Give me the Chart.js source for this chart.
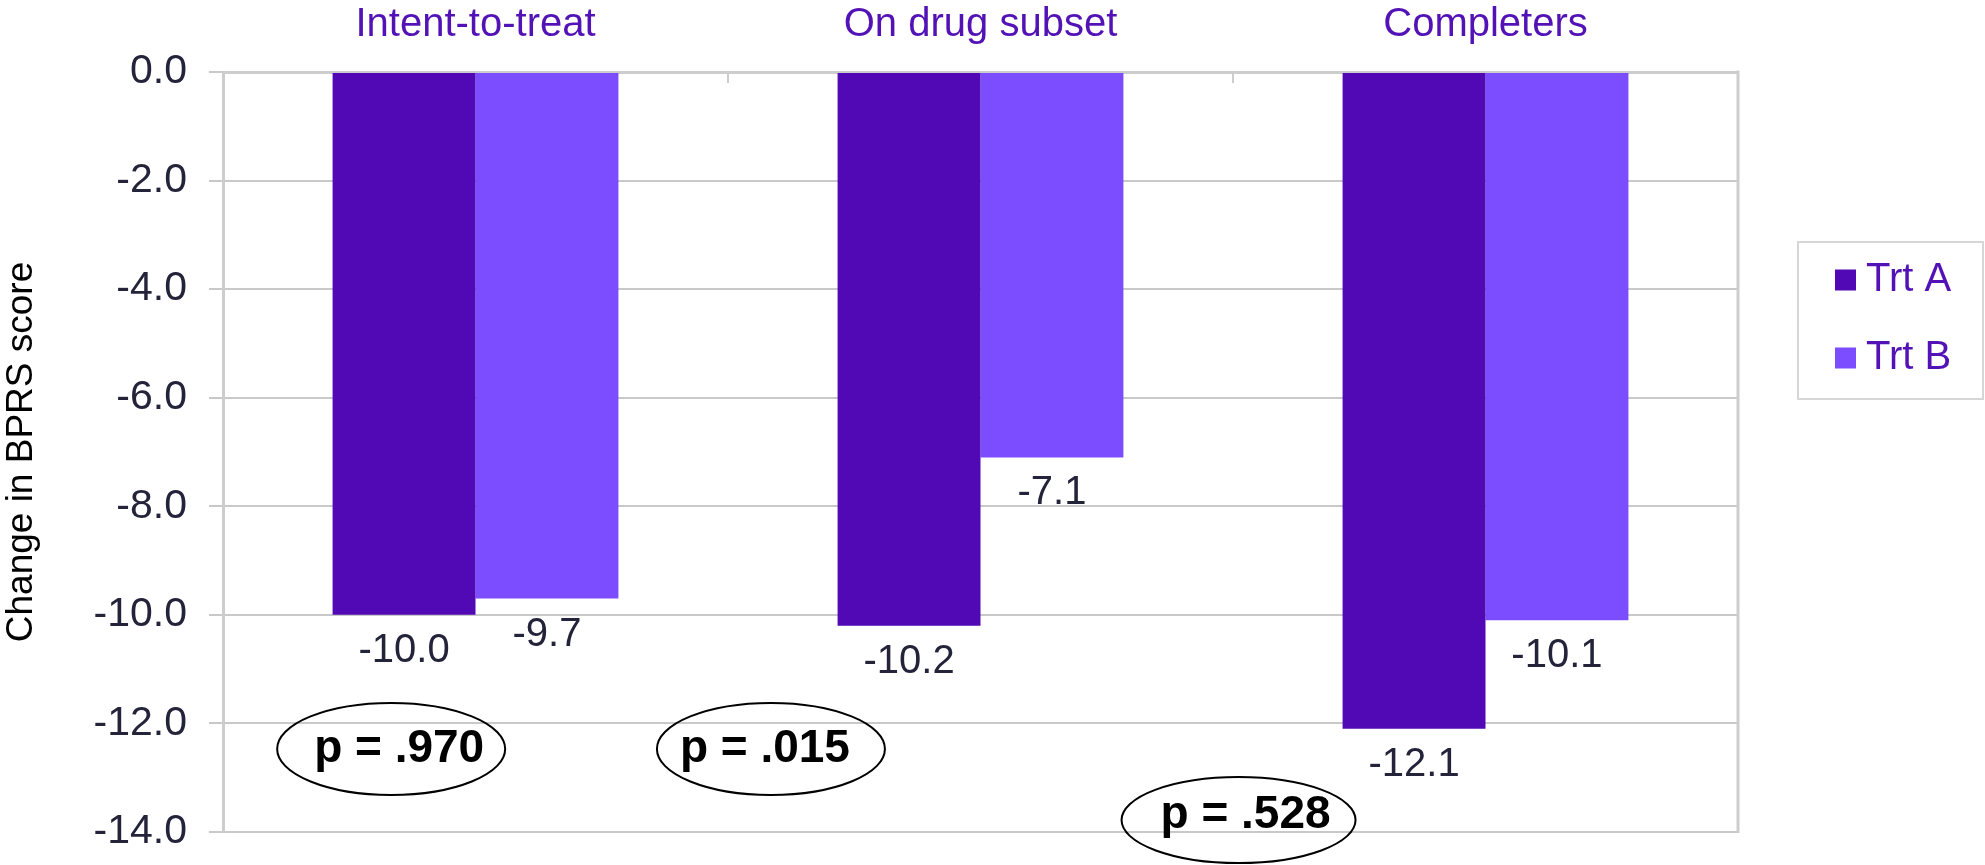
<!DOCTYPE html>
<html>
<head>
<meta charset="utf-8">
<title>Change in BPRS score</title>
<script src="https://cdn.jsdelivr.net/npm/chart.js@4.4.1/dist/chart.umd.min.js"></script>
<style>
  html, body { margin: 0; padding: 0; background: #ffffff; }
  canvas { display: block; }
</style>
</head>
<body>
<canvas id="bprs" width="1985" height="865"></canvas>
<script>
// ---- data ----
const categories = ['Intent-to-treat', 'On drug subset', 'Completers'];
const seriesNames = ['Trt A', 'Trt B'];
const trtA = [-10.0, -10.2, -12.1];
const trtB = [-9.7, -7.1, -10.1];
const yTickValues = [0, -2, -4, -6, -8, -10, -12, -14];
const pValueNotes = ['p = .970', 'p = .015', 'p = .528'];

// ---- look ----
const FONT = "'Liberation Sans', Arial, Helvetica, sans-serif";
const colorA = '#5109B5';
const colorB = '#7B4DFE';
const purpleText = '#5212B6';
const tickText = '#23233a';
const gridGray = '#c9c9c9';
const frameGray = '#cdcdcd';

// where each p-value ellipse sits, in axis units (category index, score)
const noteAnchors = [
  { x: -0.167, y: -12.47, rx: 114, ry: 46, dx: 8, dy: 0 },
  { x: 0.585, y: -12.47, rx: 114, ry: 46, dx: -6, dy: 0 },
  { x: 1.511, y: -13.78, rx: 117, ry: 43, dx: 7, dy: -5 }
];

// legend frame and rows (canvas pixels)
const legendBox = { left: 1798, top: 242, right: 1983, bottom: 399, swatch: 21, swatchX: 1835, textX: 1866, rows: [280, 358] };

// plot frame: right edge and short inward marks between categories
const framePlugin = {
  id: 'frame',
  afterDraw(chart) {
    const { ctx, chartArea: a, scales: { x } } = chart;
    ctx.save();
    ctx.strokeStyle = frameGray;
    ctx.lineWidth = 3;
    ctx.beginPath();
    ctx.moveTo(a.right, a.top - 1.5);
    ctx.lineTo(a.right, a.bottom + 1);
    ctx.stroke();
    ctx.lineWidth = 2;
    for (let i = 0; i < categories.length - 1; i++) {
      const px = Math.round((x.getPixelForValue(i) + x.getPixelForValue(i + 1)) / 2);
      ctx.beginPath();
      ctx.moveTo(px, a.top);
      ctx.lineTo(px, a.top + 11);
      ctx.stroke();
    }
    ctx.restore();
  }
};

// value labels under each bar end
const valueLabelPlugin = {
  id: 'valueLabels',
  afterDatasetsDraw(chart) {
    const { ctx } = chart;
    ctx.save();
    ctx.font = '40px ' + FONT;
    ctx.fillStyle = tickText;
    ctx.textAlign = 'center';
    ctx.textBaseline = 'middle';
    chart.data.datasets.forEach((ds, di) => {
      chart.getDatasetMeta(di).data.forEach((bar, i) => {
        ctx.fillText(ds.data[i].toFixed(1), bar.x, bar.y + 36);
      });
    });
    ctx.restore();
  }
};

// circled p-values
const pValuePlugin = {
  id: 'pValues',
  afterDraw(chart) {
    const { ctx, scales: { x, y } } = chart;
    ctx.save();
    pValueNotes.forEach((txt, i) => {
      const n = noteAnchors[i];
      const cx = x.getPixelForValue(n.x);
      const cy = y.getPixelForValue(n.y);
      ctx.beginPath();
      ctx.ellipse(cx, cy, n.rx, n.ry, 0, 0, Math.PI * 2);
      ctx.lineWidth = 2;
      ctx.strokeStyle = '#000000';
      ctx.stroke();
      ctx.font = 'bold 46px ' + FONT;
      ctx.fillStyle = '#000000';
      ctx.textAlign = 'center';
      ctx.textBaseline = 'middle';
      ctx.fillText(txt, cx + n.dx, cy + n.dy);
    });
    ctx.restore();
  }
};

// framed legend on the right
const legendPlugin = {
  id: 'sideLegend',
  afterDraw(chart) {
    const { ctx } = chart;
    const L = legendBox;
    ctx.save();
    ctx.strokeStyle = '#d6d6d6';
    ctx.lineWidth = 2;
    ctx.strokeRect(L.left, L.top, L.right - L.left, L.bottom - L.top);
    ctx.font = '40px ' + FONT;
    ctx.textAlign = 'left';
    ctx.textBaseline = 'middle';
    chart.data.datasets.forEach((ds, i) => {
      const cy = L.rows[i];
      ctx.fillStyle = ds.backgroundColor;
      ctx.fillRect(L.swatchX, cy - L.swatch / 2, L.swatch, L.swatch);
      ctx.fillStyle = purpleText;
      ctx.fillText(ds.label, L.textX, cy);
    });
    ctx.restore();
  }
};

new Chart(document.getElementById('bprs'), {
  type: 'bar',
  data: {
    labels: categories,
    datasets: [
      { label: seriesNames[0], data: trtA, backgroundColor: colorA, borderWidth: 0 },
      { label: seriesNames[1], data: trtB, backgroundColor: colorB, borderWidth: 0 }
    ]
  },
  options: {
    responsive: false,
    animation: false,
    devicePixelRatio: 1,
    layout: { padding: { left: 0, top: 0, right: 247, bottom: 33 } },
    datasets: { bar: { categoryPercentage: 0.566, barPercentage: 1.0 } },
    plugins: {
      legend: { display: false },
      tooltip: { enabled: false },
      title: { display: false }
    },
    scales: {
      x: {
        position: 'top',
        offset: true,
        grid: { display: false, drawTicks: false },
        border: { display: true, color: frameGray, width: 3 },
        ticks: {
          color: purpleText,
          font: { family: FONT, size: 40 },
          padding: 23,
          maxRotation: 0
        },
        afterFit(scale) { scale.height = 72; }
      },
      y: {
        min: -14,
        max: 0,
        afterBuildTicks(scale) { scale.ticks = yTickValues.map(v => ({ value: v })); },
        grid: { color: gridGray, lineWidth: 2, drawTicks: true, tickLength: 14, tickColor: gridGray },
        border: { display: true, color: frameGray, width: 3 },
        ticks: {
          color: tickText,
          font: { family: FONT, size: 41 },
          padding: 22,
          callback: v => Number(v).toFixed(1)
        },
        title: {
          display: true,
          text: 'Change in BPRS score',
          color: '#000000',
          font: { family: FONT, size: 37 },
          padding: { top: 0, bottom: 0 }
        },
        afterFit(scale) {
          scale.width = 223;
          scale.paddingTop = 0;
          scale.paddingBottom = 0;
        }
      }
    }
  },
  plugins: [framePlugin, valueLabelPlugin, pValuePlugin, legendPlugin]
});
</script>
</body>
</html>
